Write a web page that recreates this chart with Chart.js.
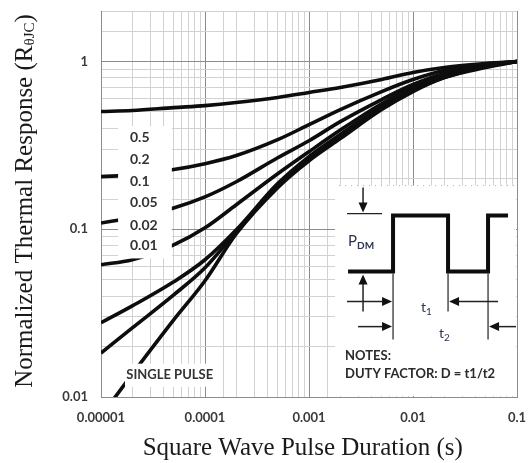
<!DOCTYPE html>
<html>
<head>
<meta charset="utf-8">
<script src="https://cdn.jsdelivr.net/npm/chart.js@4.4.1/dist/chart.umd.min.js"></script>
<style>
  html, body { margin: 0; padding: 0; background: #fff; }
  #wrap { width: 528px; height: 463px; }
</style>
</head>
<body>
<div id="wrap"><canvas id="thermal"></canvas></div>
<script>
// pulse duration (s) and normalized response
const pulseDurations = [1e-5, 2e-5, 5e-5, 1e-4, 2e-4, 5e-4, 1e-3, 2e-3, 5e-3, 1e-2, 2e-2, 5e-2, 1e-1];
const duty050 = [0.503, 0.510, 0.531, 0.546, 0.569, 0.610, 0.653, 0.700, 0.781, 0.860, 0.921, 0.973, 1.0];
const duty020 = [0.206, 0.211, 0.227, 0.246, 0.275, 0.342, 0.420, 0.517, 0.662, 0.781, 0.884, 0.960, 1.0];
const duty010 = [0.109, 0.117, 0.134, 0.156, 0.192, 0.267, 0.337, 0.438, 0.593, 0.729, 0.848, 0.946, 1.0];
const duty005 = [0.0614, 0.0658, 0.0807, 0.102, 0.140, 0.214, 0.290, 0.390, 0.560, 0.700, 0.825, 0.934, 1.0];
const duty002 = [0.0277, 0.0349, 0.0486, 0.0658, 0.0993, 0.187, 0.271, 0.367, 0.539, 0.680, 0.814, 0.934, 1.0];
const duty001 = [0.0183, 0.0258, 0.0406, 0.0589, 0.0966, 0.182, 0.264, 0.357, 0.531, 0.671, 0.802, 0.934, 1.0];
const singlePulse = [0.0077, 0.0137, 0.0288, 0.0493, 0.094, 0.177, 0.256, 0.347, 0.517, 0.662, 0.802, 0.921, 1.0];

const dutyLabels = ['0.5', '0.2', '0.1', '0.05', '0.02', '0.01'];
const xTickValues = [1e-5, 1e-4, 1e-3, 1e-2, 1e-1];
const xTickLabels = ['0.00001', '0.0001', '0.001', '0.01', '0.1'];
const yTickValues = [0.01, 0.1, 1];
const yTickLabels = ['0.01', '0.1', '1'];

const LABEL_FONT = '"Lato", "Liberation Sans", sans-serif';
const SERIF = '"Liberation Serif", "DejaVu Serif", serif';

function findLabel(values, labels, v) {
  for (var i = 0; i < values.length; i++) {
    if (Math.abs(v / values[i] - 1) < 1e-6) return labels[i];
  }
  return '';
}

function isDecade(v) {
  const e = Math.log10(v);
  return Math.abs(e - Math.round(e)) < 1e-6;
}

function series(values) {
  return pulseDurations.map((x, i) => ({ x: x, y: values[i] }));
}

function dataset_new(label, values) {
  return {
    label: label,
    data: series(values),
    borderColor: '#0d0d0d',
    borderWidth: 3.6,
    pointRadius: 0,
    cubicInterpolationMode: 'monotone',
    fill: false
  };
}

function gridColor(ctx) {
  if (!ctx.tick) return '#cccccc';
  return isDecade(ctx.tick.value) ? '#8c8c8c' : '#d2d2d2';
}

function arrow(ctx, x1, y1, x2, y2) {
  const a = Math.atan2(y2 - y1, x2 - x1);
  const len = 10, hw = 4.5;
  ctx.beginPath();
  ctx.moveTo(x1, y1);
  ctx.lineTo(x2 - Math.cos(a) * len * 0.8, y2 - Math.sin(a) * len * 0.8);
  ctx.stroke();
  ctx.beginPath();
  ctx.moveTo(x2, y2);
  ctx.lineTo(x2 - Math.cos(a) * len - Math.sin(a) * hw, y2 - Math.sin(a) * len + Math.cos(a) * hw);
  ctx.lineTo(x2 - Math.cos(a) * len + Math.sin(a) * hw, y2 - Math.sin(a) * len - Math.cos(a) * hw);
  ctx.closePath();
  ctx.fill();
}

function subText(ctx, x, y, main, sub, mainFont, subFont, subDrop) {
  ctx.font = mainFont;
  ctx.fillText(main, x, y);
  const w = ctx.measureText(main).width;
  ctx.font = subFont;
  ctx.fillText(sub, x + w, y + subDrop);
}

// white label boxes, curve labels and the pulse inset
const overlayPlugin = {
  id: 'overlays',
  afterDatasetsDraw(chart) {
    const ctx = chart.ctx;
    const xs = chart.scales.x, ys = chart.scales.y, ca = chart.chartArea;
    const px = v => xs.getPixelForValue(v);
    const py = v => ys.getPixelForValue(v);
    ctx.save();

    // duty factor labels
    ctx.fillStyle = '#ffffff';
    ctx.fillRect(px(1.46e-5), py(0.41), px(4.8e-5) - px(1.46e-5), py(0.067) - py(0.41));
    ctx.fillStyle = '#333333';
    ctx.font = 'bold 14px ' + LABEL_FONT;
    ctx.textBaseline = 'middle';
    ctx.textAlign = 'left';
    const labelY = [0.352, 0.26, 0.192, 0.144, 0.106, 0.080];
    dutyLabels.forEach((t, i) => ctx.fillText(t, px(1.9e-5), py(labelY[i])));

    // single pulse label
    ctx.fillStyle = '#ffffff';
    ctx.fillRect(px(1.7e-5), py(0.0158), px(1.46e-4) - px(1.7e-5), py(0.0115) - py(0.0158));
    ctx.fillStyle = '#333333';
    ctx.font = 'bold 13px ' + LABEL_FONT;
    ctx.fillText('SINGLE PULSE', px(1.75e-5), py(0.0135));

    // inset box
    const L = px(1.78e-3), T = py(0.182);
    ctx.fillStyle = '#ffffff';
    ctx.fillRect(L, T, ca.right - 1 - L, ca.bottom - 1 - T);
    ctx.strokeStyle = '#b0b0b0';
    ctx.lineWidth = 1;
    ctx.setLineDash([1, 5]);
    ctx.beginPath();
    ctx.moveTo(L + 4, T);
    ctx.lineTo(ca.right - 2, T);
    ctx.stroke();
    ctx.setLineDash([]);

    // square wave
    const lo = T + 86, hi = T + 30;
    ctx.strokeStyle = '#0d0d0d';
    ctx.lineWidth = 4;
    ctx.lineJoin = 'miter';
    ctx.beginPath();
    ctx.moveTo(L + 13, lo);
    ctx.lineTo(L + 58, lo);
    ctx.lineTo(L + 58, hi);
    ctx.lineTo(L + 113, hi);
    ctx.lineTo(L + 113, lo);
    ctx.lineTo(L + 153, lo);
    ctx.lineTo(L + 153, hi);
    ctx.lineTo(L + 173, hi);
    ctx.stroke();

    // thin guides
    ctx.lineWidth = 1.2;
    ctx.strokeStyle = '#222222';
    ctx.fillStyle = '#111111';
    ctx.beginPath();
    ctx.moveTo(L + 12, hi - 2); ctx.lineTo(L + 47, hi - 2);
    ctx.moveTo(L + 58, lo + 2); ctx.lineTo(L + 58, T + 154);
    ctx.moveTo(L + 113, lo + 2); ctx.lineTo(L + 113, T + 126);
    ctx.moveTo(L + 153, lo + 2); ctx.lineTo(L + 153, T + 154);
    ctx.stroke();
    ctx.lineWidth = 1.5;
    arrow(ctx, L + 28, T + 2, L + 28, hi - 3);
    arrow(ctx, L + 28, T + 126, L + 28, lo + 3);
    arrow(ctx, L + 12, T + 116, L + 57, T + 116);
    arrow(ctx, L + 163, T + 116, L + 114, T + 116);
    arrow(ctx, L + 23, T + 141, L + 57, T + 141);
    arrow(ctx, ca.right - 1, T + 141, L + 154, T + 141);

    // inset texts
    ctx.fillStyle = '#2b3550';
    ctx.textBaseline = 'alphabetic';
    subText(ctx, L + 13, T + 60, 'P', 'DM', '15px ' + LABEL_FONT, 'bold 10px ' + LABEL_FONT, 3);
    subText(ctx, L + 86, T + 126, 't', '1', '14px ' + LABEL_FONT, '10px ' + LABEL_FONT, 3);
    subText(ctx, L + 104, T + 152, 't', '2', '14px ' + LABEL_FONT, '10px ' + LABEL_FONT, 3);
    ctx.fillStyle = '#2a2a2a';
    ctx.font = 'bold 13px ' + LABEL_FONT;
    ctx.fillText('NOTES:', L + 10, T + 174);
    ctx.fillText('DUTY FACTOR: D = t1/t2', L + 10, T + 192);
    ctx.restore();
  },
  afterDraw(chart) {
    // y title with subscript
    const ctx = chart.ctx;
    ctx.save();
    ctx.translate(25, 201);
    ctx.rotate(-Math.PI / 2);
    ctx.fillStyle = '#1a1a1a';
    ctx.textBaseline = 'middle';
    const mainFont = '25px ' + SERIF, subFont = '15px ' + SERIF;
    const a = 'Normalized Thermal Response (R', b = '\u03B8JC', c = ')';
    ctx.font = mainFont; const wa = ctx.measureText(a).width, wc = ctx.measureText(c).width;
    ctx.font = subFont; const wb = ctx.measureText(b).width;
    let x = -(wa + wb + wc) / 2;
    ctx.font = mainFont; ctx.fillText(a, x, 0); x += wa;
    ctx.font = subFont; ctx.fillText(b, x, 5); x += wb;
    ctx.font = mainFont; ctx.fillText(c, x, 0);
    ctx.restore();
  }
};

const config = {
  type: 'line',
  data: {
    datasets: [
      dataset_new('0.5', duty050),
      dataset_new('0.2', duty020),
      dataset_new('0.1', duty010),
      dataset_new('0.05', duty005),
      dataset_new('0.02', duty002),
      dataset_new('0.01', duty001),
      dataset_new('SINGLE PULSE', singlePulse)
    ]
  },
  options: {
    responsive: true,
    maintainAspectRatio: false,
    animation: false,
    devicePixelRatio: 1,
    layout: { padding: { top: 11, right: 11, left: 0, bottom: 0 } },
    plugins: {
      legend: { display: false },
      tooltip: { enabled: false },
      title: { display: false }
    },
    scales: {
      x: {
        type: 'logarithmic',
        min: 1e-5,
        max: 0.1,
        afterFit: scale => {
          scale.height = 66;
          scale.paddingLeft = 0;
          scale.paddingRight = 0;
        },
        grid: { color: gridColor, drawTicks: false, lineWidth: 1 },
        border: { color: '#8c8c8c' },
        ticks: {
          autoSkip: false,
          maxRotation: 0,
          padding: 13,
          color: '#3a3a3a',
          font: { family: LABEL_FONT, size: 13, weight: 'bold' },
          callback: value => findLabel(xTickValues, xTickLabels, value)
        },
        title: {
          display: true,
          text: 'Square Wave Pulse Duration (s)\u00a0\u00a0',
          color: '#1a1a1a',
          font: { family: SERIF, size: 25, lineHeight: 1.1 },
          padding: { top: 0, bottom: 1 }
        }
      },
      y: {
        type: 'logarithmic',
        min: 0.01,
        max: 2,
        afterFit: scale => {
          scale.width = 101;
          scale.paddingTop = 0;
          scale.paddingBottom = 0;
        },
        grid: { color: gridColor, drawTicks: false, lineWidth: 1 },
        border: { color: '#8c8c8c' },
        ticks: {
          autoSkip: false,
          padding: 13,
          color: '#3a3a3a',
          font: { family: LABEL_FONT, size: 13, weight: 'bold' },
          callback: value => findLabel(yTickValues, yTickLabels, value)
        }
      }
    }
  },
  plugins: [overlayPlugin]
};

const chart = new Chart(document.getElementById('thermal'), config);
</script>
</body>
</html>
